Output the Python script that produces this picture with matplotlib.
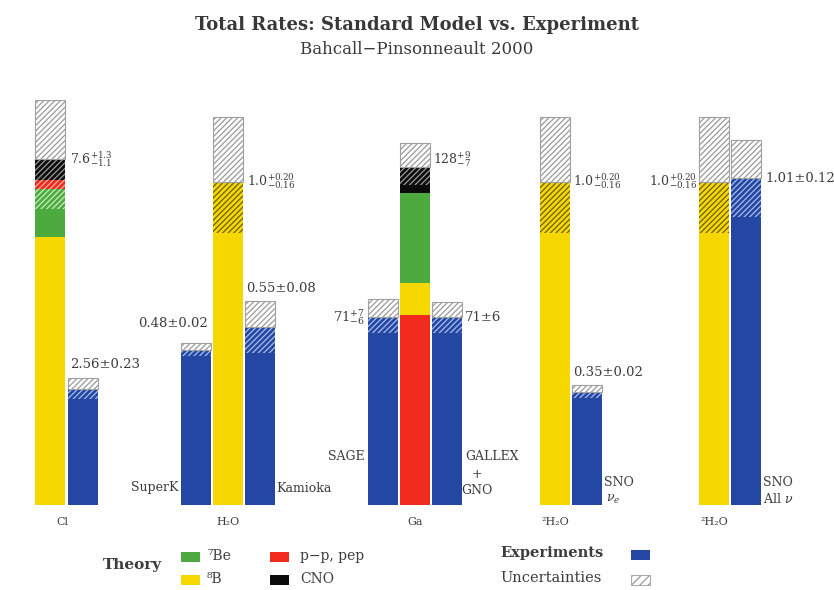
"""Total rates: standard solar model vs experiments (BP2000)"""

import matplotlib.pyplot as plt
from matplotlib.patches import Rectangle
from matplotlib.transforms import offset_copy

plt.rcParams['font.family'] = 'DejaVu Serif'
plt.rcParams['mathtext.fontset'] = 'dejavuserif'
plt.rcParams['hatch.linewidth'] = 0.9

# ---- data -------------------------------------------------------------
groups = ['Cl', 'H₂O', 'Ga', '²H₂O', '²H₂O']

# theory: flux contributions, stacked bottom-up in this order
cl_flux = {'8B': 5.9, '7Be': 1.05, 'pp': 0.2, 'CNO': 0.45}
h2o_flux = {'8B': 1.0}
ga_flux = {'pp': 72, '8B': 12, '7Be': 34, 'CNO': 10}
d2o_flux = {'8B': 1.0}
theory_flux = [cl_flux, h2o_flux, ga_flux, d2o_flux, d2o_flux]

theory_val = [7.6, 1.0, 128, 1.0, 1.0]
theory_up = [1.3, 0.20, 9, 0.20, 0.20]
theory_lo = [1.1, 0.16, 7, 0.16, 0.16]
theory_labels = [r'$7.6^{+1.3}_{-1.1}$', r'$1.0^{+0.20}_{-0.16}$',
                 r'$128^{+9}_{-7}$', r'$1.0^{+0.20}_{-0.16}$',
                 r'$1.0^{+0.20}_{-0.16}$']

exp_group = [0, 1, 1, 2, 2, 3, 4]
exp_val = [2.56, 0.48, 0.55, 71, 71, 0.35, 1.01]
exp_up = [0.23, 0.02, 0.08, 7, 6, 0.02, 0.12]
exp_lo = [0.23, 0.02, 0.08, 6, 6, 0.02, 0.12]
exp_labels = ['2.56±0.23', '0.48±0.02', '0.55±0.08', r'$71^{+7}_{-6}$',
              '71±6', '0.35±0.02', '1.01±0.12']

# ---- layout (pixel-based) --------------------------------------------
W, H = 834, 590
base_px = 505
top_px = 100
group_top = [100, 117, 143, 117, 117]
th_x = [50.5, 228, 415, 555.5, 714]
exp_x = [83.5, 196, 260, 383, 447.5, 587.5, 746.5]
bw = 30
HATCH = '//////'

colors = {'8B': '#F6D800', '7Be': '#4CAA3E', 'pp': '#F02A1C', 'CNO': '#0B0B0B'}
hatch_on = {'8B': '#6B5E00', '7Be': '#C8EEBE', 'pp': '#F8B0A0', 'CNO': '#9A9A9A'}
blue = '#2347A2'
blue_hatch = '#A8BCEC'
gray_hatch = '#9A9A9A'
txt = '#3C3C3C'

fig = plt.figure(figsize=(W / 100, H / 100), dpi=100)
ax = fig.add_axes([0, 1 - base_px / H, 1, (base_px - top_px) / H])
ax.set_xlim(0, W)
ax.set_ylim(0, 1)
ax.axis('off')


def fx(x):
    return x / W


def fy(y):
    return 1 - y / H


def hatch(x, lo, hi, col):
    ax.bar(x, hi - lo, bottom=lo, width=bw, fill=False, hatch=HATCH,
           edgecolor=col, linewidth=0)


def upper_box(x, lo, hi):
    hatch(x, lo, hi, gray_hatch)
    ax.bar(x, hi - lo, bottom=lo, width=bw, fill=False,
           edgecolor='#A0A0A0', linewidth=0.8)


scales = []
for i in range(len(groups)):
    frac = (base_px - group_top[i]) / (base_px - top_px)
    s = frac / (theory_val[i] + theory_up[i])
    scales.append(s)
    lo = (theory_val[i] - theory_lo[i]) * s
    val = theory_val[i] * s
    bottom = 0
    for name, v in theory_flux[i].items():
        h = v * s
        ax.bar(th_x[i], h, bottom=bottom, width=bw, color=colors[name],
               linewidth=0)
        a, b = max(bottom, lo), min(bottom + h, val)
        if b > a:
            hatch(th_x[i], a, b, hatch_on[name])
        bottom += h
    upper_box(th_x[i], val, (theory_val[i] + theory_up[i]) * s)

for j, g in enumerate(exp_group):
    s = scales[g]
    val = exp_val[j] * s
    ax.bar(exp_x[j], val, width=bw, color=blue, linewidth=0)
    hatch(exp_x[j], (exp_val[j] - exp_lo[j]) * s, val, blue_hatch)
    upper_box(exp_x[j], val, (exp_val[j] + exp_up[j]) * s)

# ---- value labels ----------------------------------------------------
th_lab_x = [70, 247, 433, 573, 697]
th_lab_ha = ['left', 'left', 'left', 'left', 'right']
th_lab_dy = [0, 0, 8, 0, 0]
for i, lab in enumerate(theory_labels):
    tr = offset_copy(ax.transData, fig=fig, x=0, y=th_lab_dy[i], units='dots')
    ax.text(th_lab_x[i], theory_val[i] * scales[i], lab, transform=tr,
            ha=th_lab_ha[i], va='center', fontsize=9, color=txt)

exp_lab_x = [70, 208, 246, 365, 465, 573, 765]
exp_lab_ha = ['left', 'right', 'left', 'right', 'left', 'left', 'left']
exp_lab_on_top = [True, True, True, False, False, True, False]
exp_lab_dy = [14, 20, 13, 0, 0, 13, 0]
for j, lab in enumerate(exp_labels):
    s = scales[exp_group[j]]
    y = (exp_val[j] + exp_up[j]) * s if exp_lab_on_top[j] else exp_val[j] * s
    tr = offset_copy(ax.transData, fig=fig, x=0, y=exp_lab_dy[j], units='dots')
    ax.text(exp_lab_x[j], y, lab, transform=tr, ha=exp_lab_ha[j],
            va='center', fontsize=9.5, color=txt)

# ---- experiment names ------------------------------------------------
name_kw = dict(fontsize=9, color=txt, va='center')
fig.text(fx(179), fy(488), 'SuperK', ha='right', **name_kw)
fig.text(fx(276), fy(488), 'Kamioka', ha='left', **name_kw)
fig.text(fx(365), fy(457), 'SAGE', ha='right', **name_kw)
fig.text(fx(465), fy(457), 'GALLEX', ha='left', **name_kw)
fig.text(fx(477), fy(474), '+', ha='center', **name_kw)
fig.text(fx(477), fy(490), 'GNO', ha='center', **name_kw)
fig.text(fx(604), fy(483), 'SNO', ha='left', **name_kw)
fig.text(fx(606), fy(499), r'$\nu_e$', ha='left', **name_kw)
fig.text(fx(763), fy(483), 'SNO', ha='left', **name_kw)
fig.text(fx(763), fy(499), r'All $\nu$', ha='left', **name_kw)

# group labels under the bars
grp_lab_x = [62, 228, 415, 555, 714]
for i, g in enumerate(groups):
    fig.text(fx(grp_lab_x[i]), fy(522), g, ha='center', va='center',
             fontsize=8, color=txt)

# ---- titles ----------------------------------------------------------
fig.text(0.5, fy(25), 'Total Rates: Standard Model vs. Experiment',
         ha='center', va='center', fontsize=13, fontweight='semibold',
         color='#383838')
fig.text(0.5, fy(50), 'Bahcall\u2212Pinsonneault 2000', ha='center',
         va='center', fontsize=12, color='#3A3A3A')

# ---- legend ----------------------------------------------------------
def patch(x, y, col, hatched=False):
    r = Rectangle((fx(x), fy(y + 5)), 19 / W, 10 / H, transform=fig.transFigure,
                  facecolor='white' if hatched else col,
                  edgecolor=gray_hatch if hatched else 'none',
                  hatch='////' if hatched else None, linewidth=0.6)
    fig.add_artist(r)


fig.text(fx(103), fy(565), 'Theory', ha='left', va='center', fontsize=11,
         fontweight='bold', color=txt)
patch(181, 557, colors['7Be'])
fig.text(fx(207), fy(556), '⁷Be', ha='left', va='center', fontsize=10, color=txt)
patch(181, 580, colors['8B'])
fig.text(fx(207), fy(579), '⁸B', ha='left', va='center', fontsize=10, color=txt)
patch(270, 557, colors['pp'])
fig.text(fx(300), fy(556), 'p\u2212p, pep', ha='left', va='center', fontsize=10,
         color=txt)
patch(270, 580, colors['CNO'])
fig.text(fx(300), fy(579), 'CNO', ha='left', va='center', fontsize=10, color=txt)

fig.text(fx(500), fy(553), 'Experiments', ha='left', va='center', fontsize=10.5,
         fontweight='semibold', color=txt)
patch(631, 555, blue)
fig.text(fx(500), fy(578), 'Uncertainties', ha='left', va='center',
         fontsize=10.5, color=txt)
patch(631, 580, None, hatched=True)

fig.savefig('out.png', dpi=100, facecolor='white')
